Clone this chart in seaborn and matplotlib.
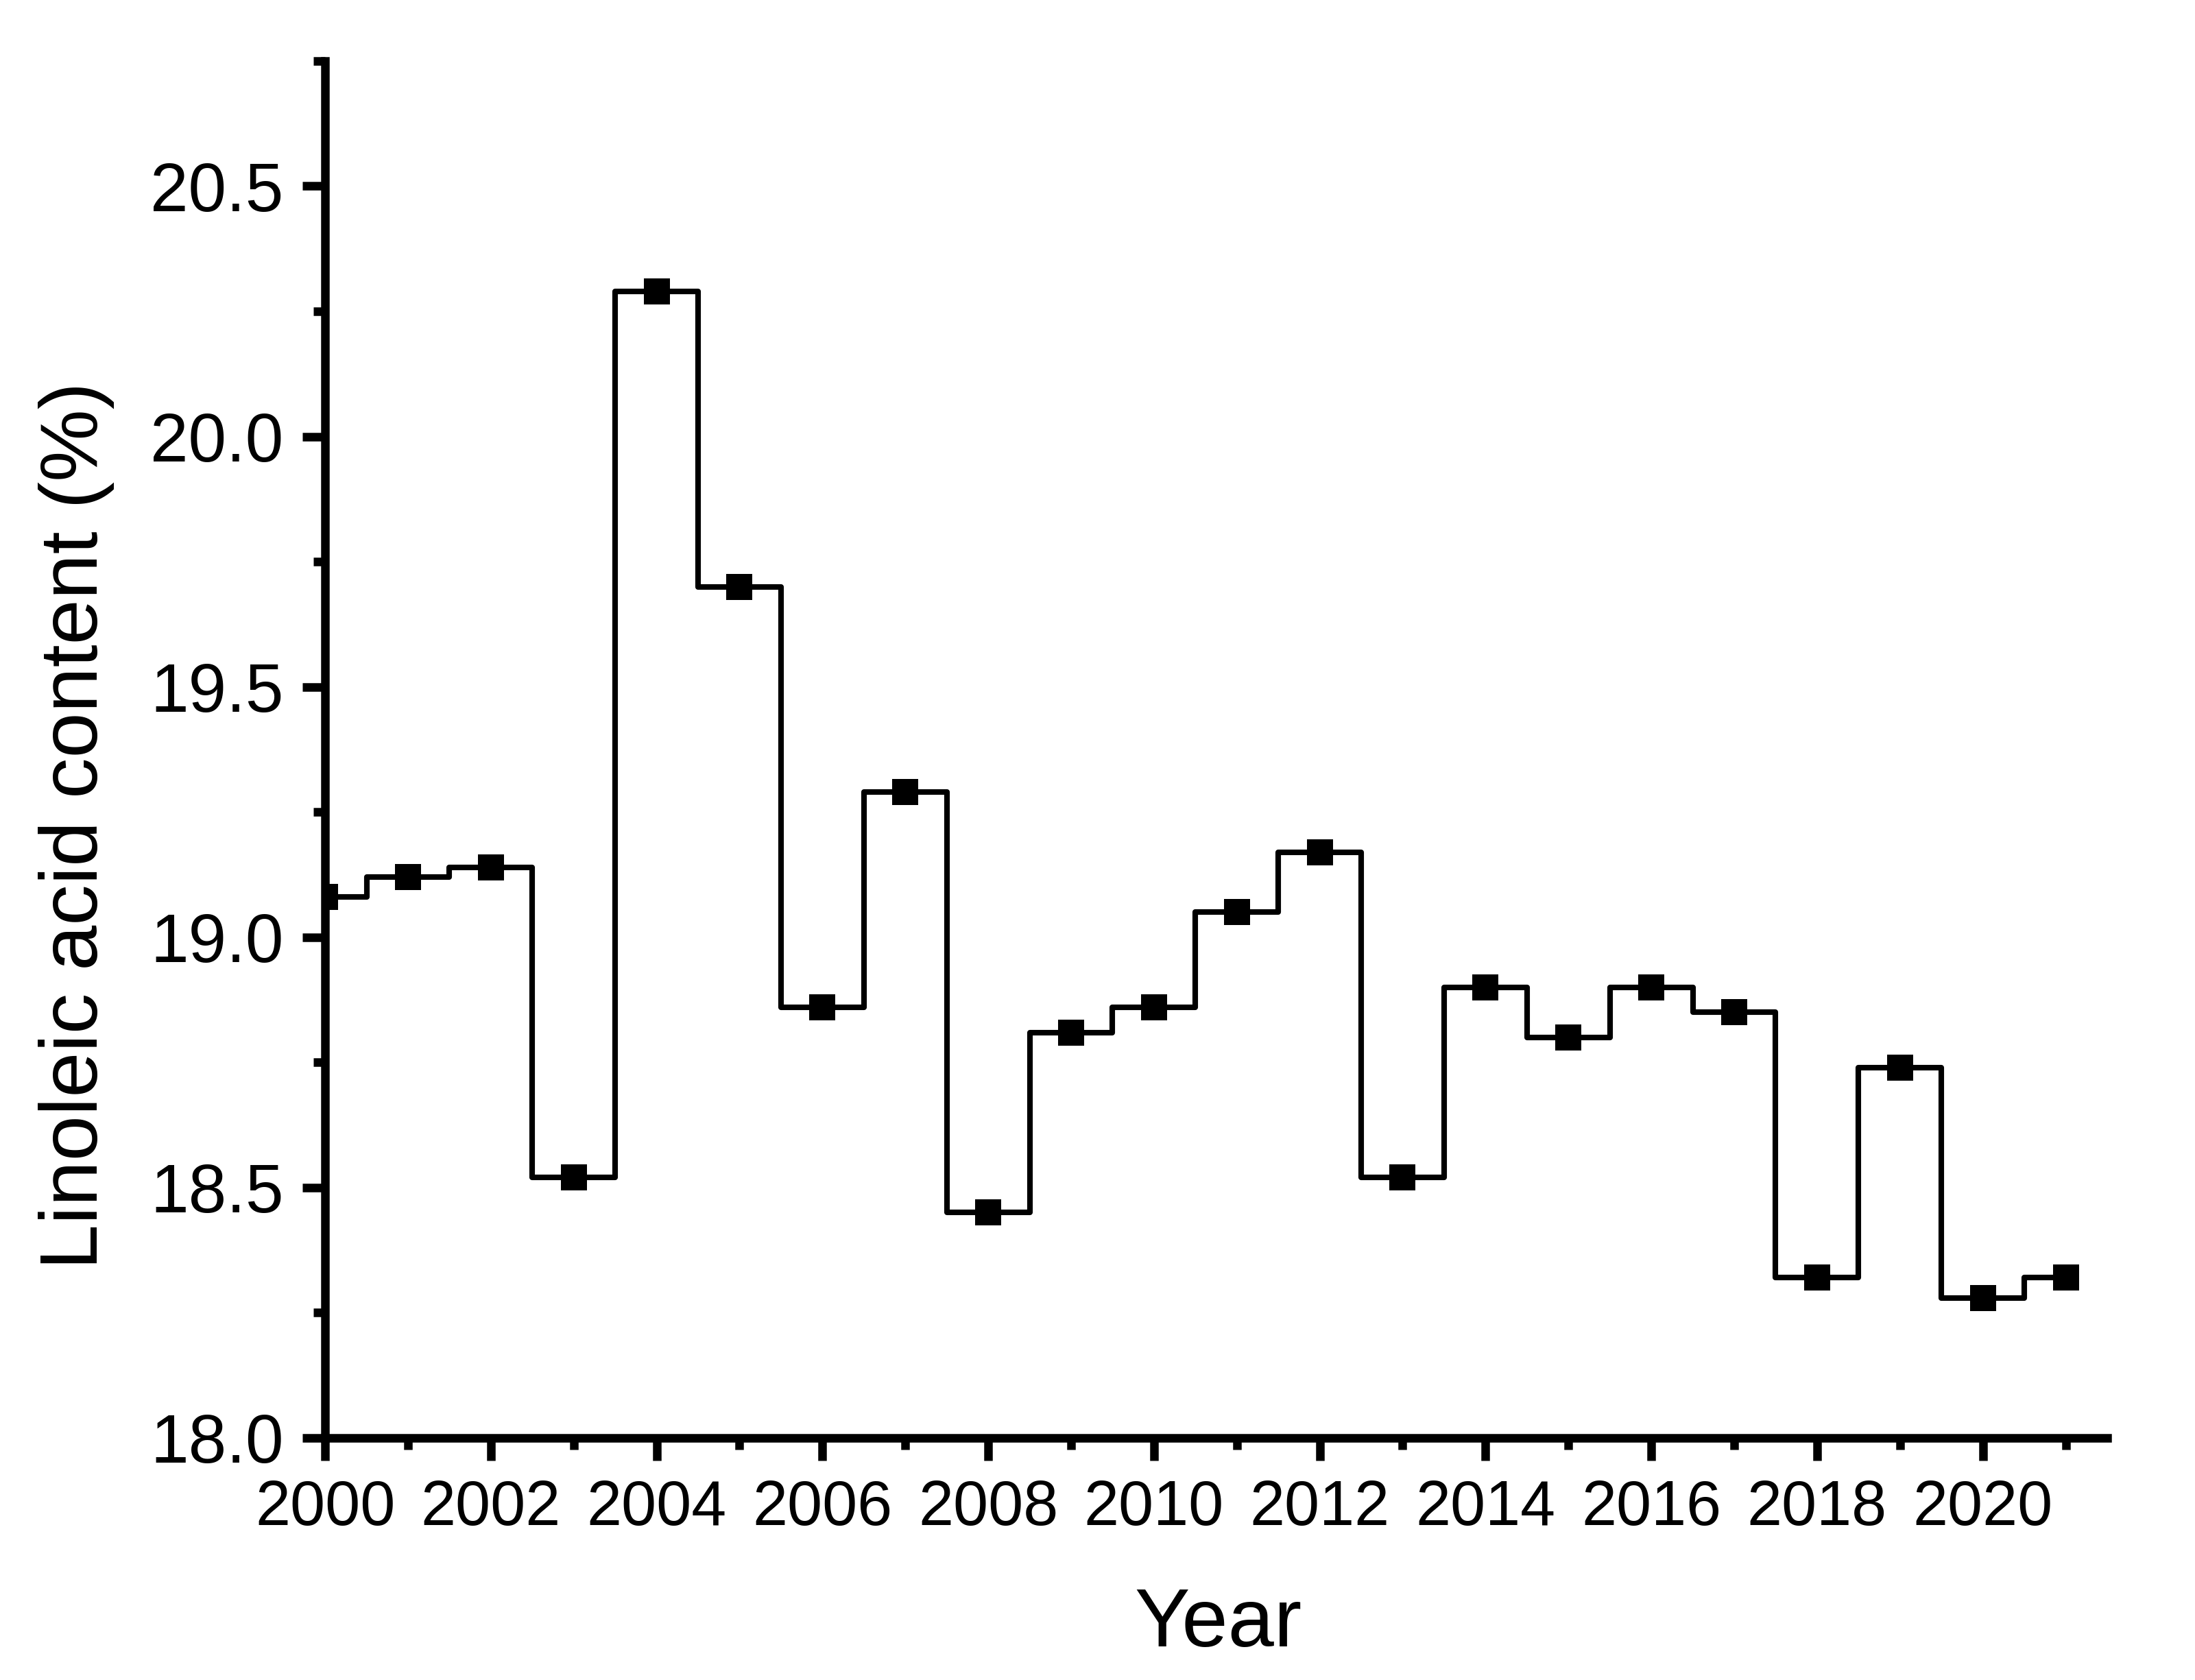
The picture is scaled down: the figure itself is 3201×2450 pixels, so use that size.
import matplotlib
matplotlib.use("Agg")
import matplotlib.pyplot as plt
from matplotlib.ticker import MultipleLocator
import seaborn as sns
import pandas as pd

# Data
years = list(range(2000, 2022))
linoleic = [19.08, 19.12, 19.14, 18.52, 20.29, 19.70, 18.86, 19.29, 18.45, 18.81, 18.86,
            19.05, 19.17, 18.52, 18.90, 18.80, 18.90, 18.85, 18.32, 18.74, 18.28, 18.32]

df = pd.DataFrame({"Year": years, "Linoleic": linoleic})

sns.set_style("ticks")
plt.rcParams["font.family"] = ["Liberation Sans", "DejaVu Sans"]
plt.rcParams["text.color"] = "black"
plt.rcParams["axes.labelcolor"] = "black"
plt.rcParams["xtick.color"] = "black"
plt.rcParams["ytick.color"] = "black"
plt.rcParams["axes.edgecolor"] = "black"

fig = plt.figure(figsize=(3201 / 300, 2450 / 300), dpi=300)
ax = fig.add_axes([0.1481, 0.1441, 0.960 - 0.1481, 0.9637 - 0.1441])

sns.lineplot(
    data=df, x="Year", y="Linoleic", ax=ax,
    drawstyle="steps-mid", color="black", linewidth=1.95,
    marker="s", markersize=9, markeredgewidth=0, markerfacecolor="black",
)

ax.set_xlim(2000, 2021.5)
ax.set_ylim(18.0, 20.75)
ax.xaxis.set_major_locator(MultipleLocator(2))
ax.xaxis.set_minor_locator(MultipleLocator(1))
ax.yaxis.set_major_locator(MultipleLocator(0.5))
ax.yaxis.set_minor_locator(MultipleLocator(0.25))
ax.yaxis.set_major_formatter(plt.FuncFormatter(lambda v, p: f"{v:.1f}"))

sns.despine(ax=ax)
for side in ["left", "bottom"]:
    ax.spines[side].set_linewidth(3)
    ax.spines[side].set_capstyle("projecting")

ax.tick_params(which="major", direction="out", length=8, width=3, pad=6.5)
ax.tick_params(which="minor", direction="out", length=4, width=3)
ax.tick_params(axis="x", labelsize=22)
ax.tick_params(axis="y", labelsize=24)

ax.set_xlabel("Year", fontsize=29)
ax.set_ylabel("Linoleic acid content (%)", fontsize=28.5)
ax.xaxis.set_label_coords(0.501, -0.108)
ax.yaxis.set_label_coords(-0.118, 0.445)

fig.savefig("out.png", dpi=300)
